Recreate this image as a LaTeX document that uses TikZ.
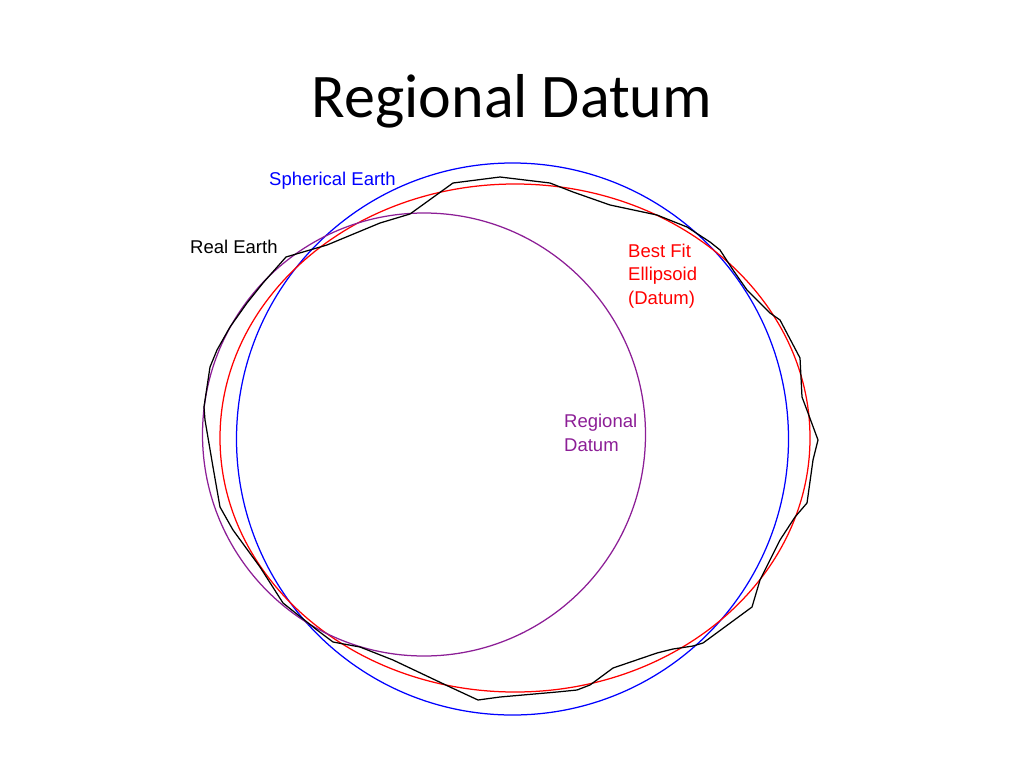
\documentclass[tikz,border=0pt]{standalone}
\usepackage{fontspec}
\setmainfont{Carlito}
\newfontfamily\lblfont{Liberation Sans}
\usepackage{tikz}
\usetikzlibrary{positioning}
\definecolor{regviolet}{RGB}{140,30,150}
\tikzset{sph/.style={draw=blue, line width=1.25pt}}
\tikzset{fit/.style={draw=red, line width=1.25pt}}
\tikzset{reg/.style={draw=regviolet, line width=1.25pt}}
\tikzset{real/.style={draw=black, line width=1.25pt, line join=round}}
\tikzset{l/.style={font=\lblfont\fontsize{18.5}{23.3}\selectfont, inner sep=0pt, anchor=west, align=left}}
\newcommand{\realearth}{
  \draw[real] (286,257) -- (327,245) -- (380,223) -- (410,214) -- (453,183)
    -- (500,177) -- (550,183) -- (573,192) -- (610,205) -- (657,215)
    -- (687,227) -- (710,242) -- (720,250) -- (733,270) -- (747,290)
    -- (757,300) -- (770,313) -- (780,320) -- (800,358) -- (802,397)
    -- (808,413) -- (818,440) -- (813,460) -- (807,503) -- (795,517)
    -- (780,540) -- (760,580) -- (752,607) -- (703,643) -- (693,646)
    -- (673,649) -- (657,653) -- (613,668) -- (590,685) -- (577,690)
    -- (557,692) -- (500,697) -- (478,700) -- (450,687) -- (393,660)
    -- (360,647) -- (333,642) -- (317,630) -- (283,603) -- (260,567)
    -- (233,530) -- (220,507) -- (213,467) -- (205,420) -- (204,407)
    -- (210,367) -- (217,350) -- (230,327) -- (247,303) -- (263,283)
    -- cycle;
}
\begin{document}
\begin{tikzpicture}[x=1pt, y=-1pt]
    \useasboundingbox (0,0) rectangle (1024,768);
    \node[anchor=base, font=\fontsize{62}{62}\selectfont, inner sep=0pt] (title) at (512,117) {Regional Datum};
    \draw[sph] (512.5,439) circle [radius=276pt];
    \draw[fit] (515,438) ellipse [x radius=295pt, y radius=254pt];
    \draw[reg] (424,434.5) circle [radius=221.5pt];
    \realearth
    \node[l, text=blue] (sphlbl) at (269,181) {Spherical Earth};
    \node[l] (reallbl) at (190,247) {Real Earth};
    \node[l, text=red] (fitlbl) at (628,276) {Best Fit\\Ellipsoid\\(Datum)};
    \node[l, text=regviolet] (reglbl) at (564,433) {Regional\\Datum};
  \end{tikzpicture}
\end{document}
